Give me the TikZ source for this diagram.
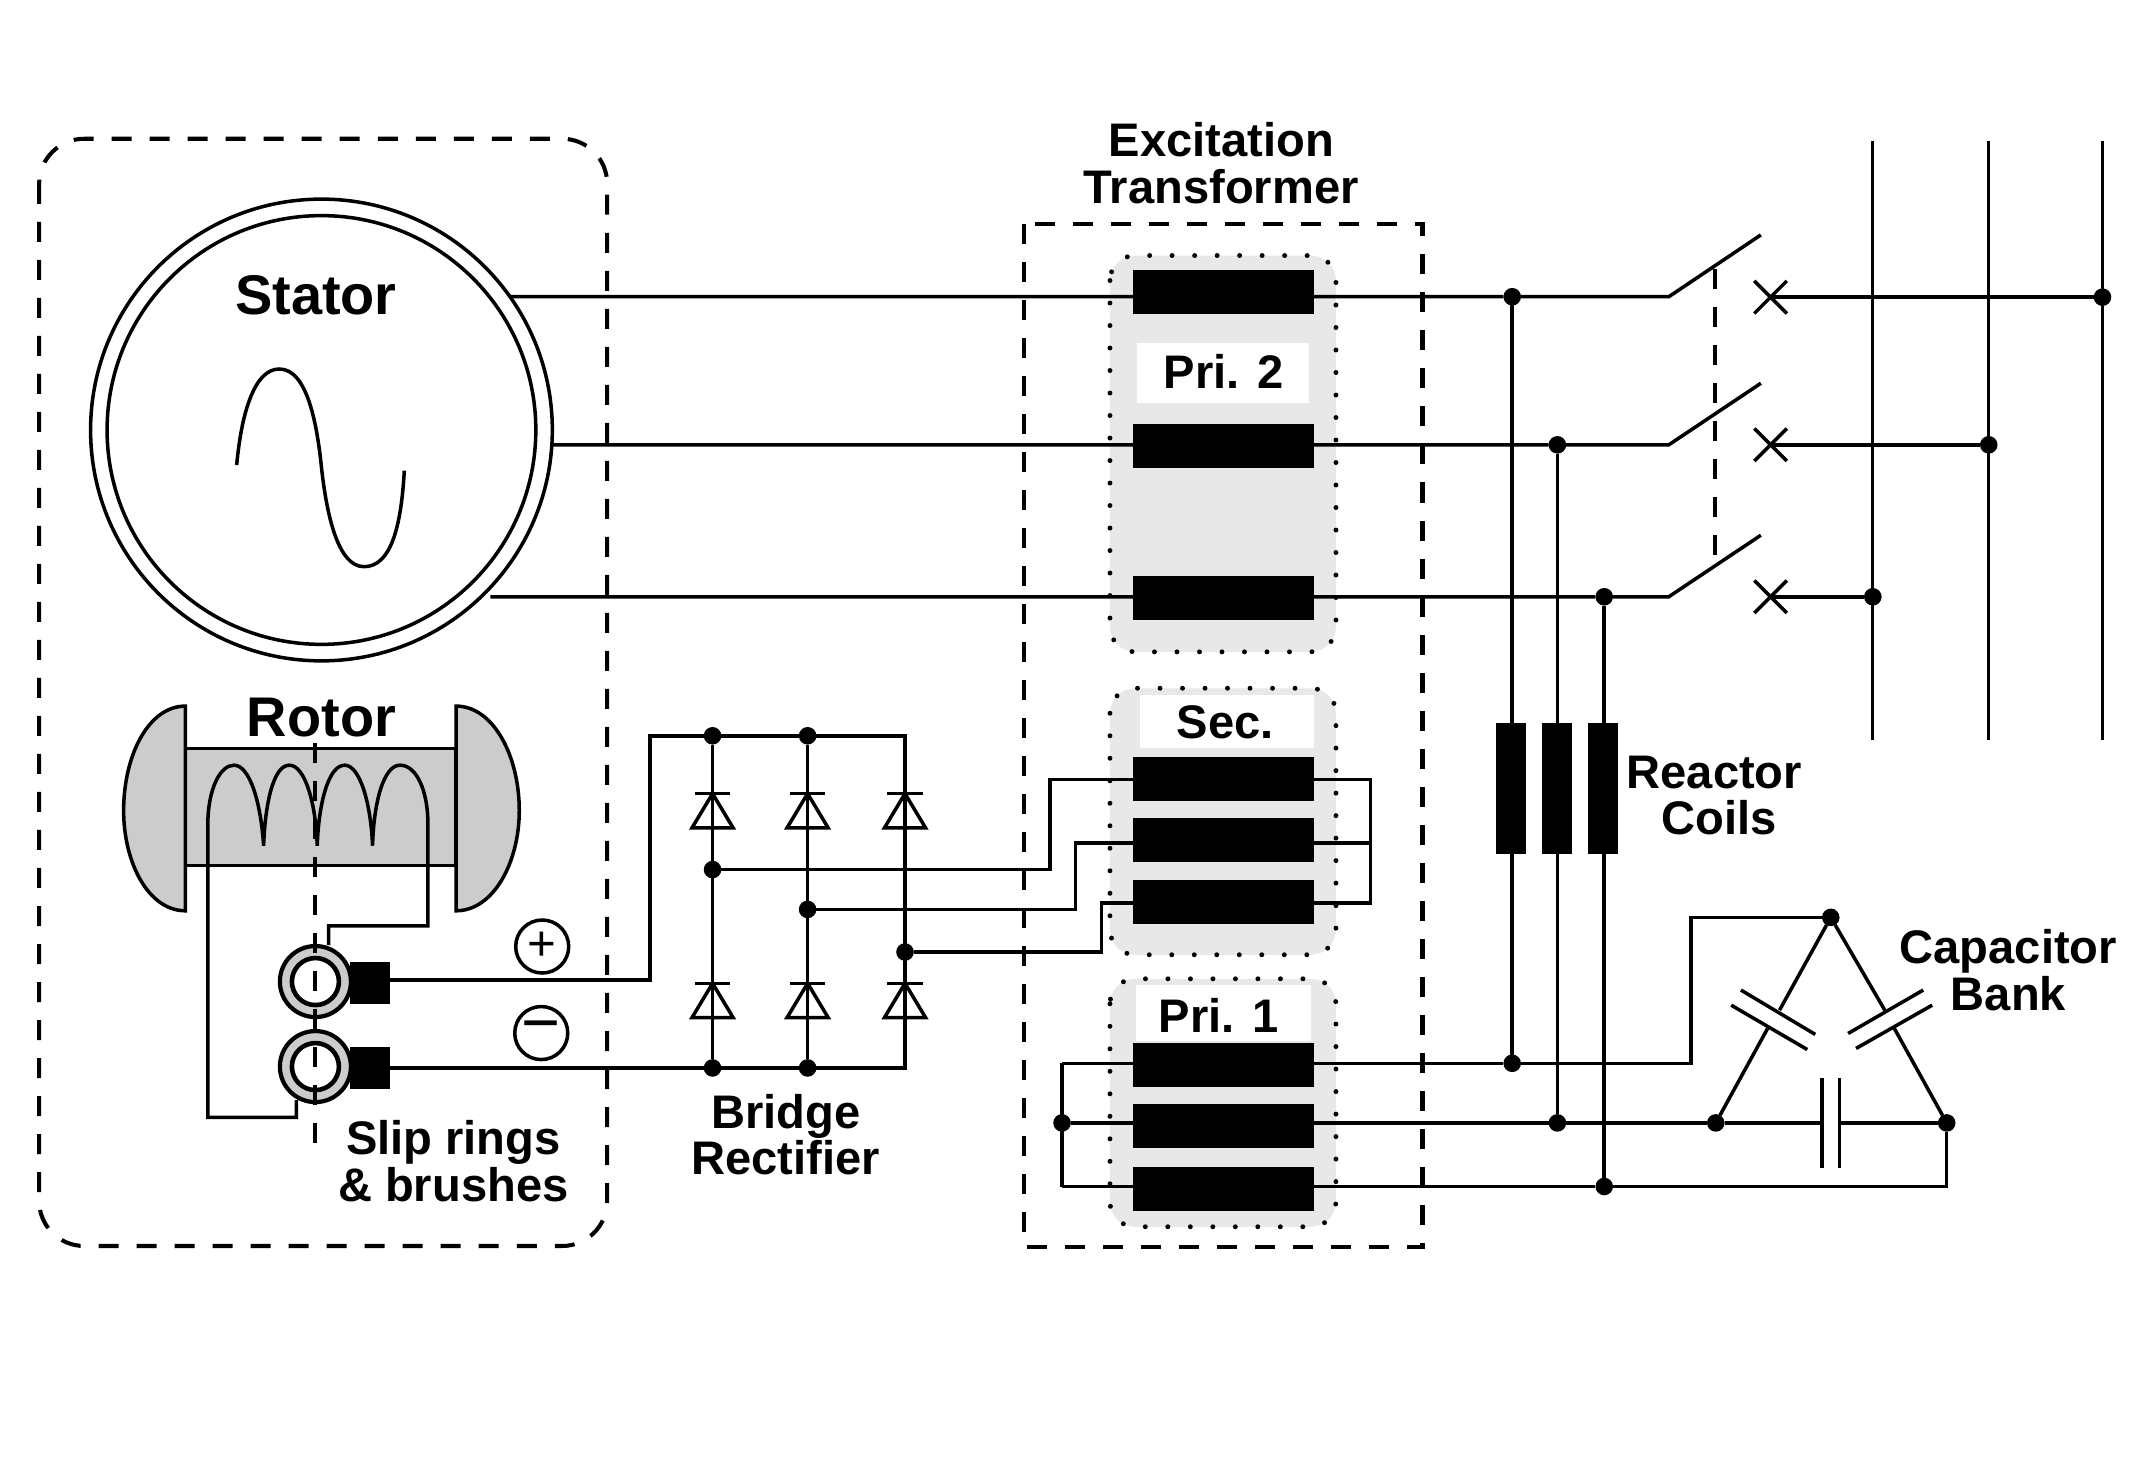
\documentclass[tikz,border=0pt]{standalone}
\usepackage{fontspec}
\setmainfont{Liberation Sans}
\usetikzlibrary{shapes.misc}

\tikzset{
    every picture/.style={line width=1pt},
    lbl/.style={font=\bfseries\fontsize{13.4}{13.3}\selectfont, align=center, inner sep=0pt},
    biglbl/.style={font=\bfseries\fontsize{15.9}{16}\selectfont, inner sep=0pt},
    dashbox/.style={line width=1.15pt, dash pattern=on 0.2cm off 0.18cm},
    dotbox/.style={fill=boxgray, line width=1.4pt, line cap=round, dash pattern=on 0pt off 6.4pt, rounded corners=0.25cm},
    jdot/.style={draw, fill=black, shape=circle, inner sep=0pt, minimum size=0.14cm},
    coil/.style={fill=black, inner sep=0pt, minimum width=1.81cm, minimum height=0.44cm},
    reactor/.style={fill=black, inner sep=0pt, minimum width=0.3cm, minimum height=1.31cm},
    brush/.style={fill=black, inner sep=0pt, minimum width=0.4cm, minimum height=0.42cm},
    xmark/.style={draw, shape=cross out, inner sep=0pt, minimum size=0.29cm},
    ring/.style={draw, shape=circle, fill=rotorgray, inner sep=0pt, minimum size=0.71cm, line width=1.2pt},
    ringin/.style={draw, shape=circle, fill=white, inner sep=0pt, minimum size=0.47cm, line width=1.3pt},
    sign/.style={draw, shape=circle, inner sep=0pt, minimum size=0.53cm},
    busline/.style={line width=0.85pt},
    diode/.pic={
        \draw (-13,0) -- (13,0);
        \draw (0,0) -- (15,25) -- (-15,25) -- cycle;
    }
}
\definecolor{boxgray}{gray}{0.91}
\definecolor{rotorgray}{gray}{0.80}

\begin{document}
\begin{tikzpicture}[x=0.013737cm, y=-0.013737cm]
    \useasboundingbox (0,0) rectangle (1568,1065.7);

    \draw[dotbox] (808,186) rectangle (972.5,474.5);
    \draw[dotbox] (808,501) rectangle (972.5,695);
    \draw[dotbox] (808,712.5) rectangle (972.5,893);
    \fill[white] (827.5,249.5) rectangle (953,293.7);
    \fill[white] (829.5,506) rectangle (956.5,544.7);
    \fill[white] (827,717) rectangle (954,758);

    \draw[dashbox, rounded corners=0.45cm] (28.5,101) rectangle (442,907);
    \draw[dashbox] (745.5,163) rectangle (1035.5,908);

    \node(stator)[draw, shape=circle, inner sep=0pt, minimum size=4.616cm] at (234,313) {};
    \node(statorin)[draw, shape=circle, inner sep=0pt, minimum size=4.286cm] at (234,313) {};
    \node(statorlbl)[biglbl] at (230,215) {Stator};
    \draw (172.3,338.5) .. controls (176,298) and (186,268.6) .. (203.3,268.6)
        .. controls (224,268.6) and (231,310) .. (234.2,342)
        .. controls (238,375) and (246,412.5) .. (265,412.5)
        .. controls (284,412.5) and (292,385) .. (294.3,342.6);

    \draw[fill=rotorgray] (135,545) rectangle (332,630);
    \draw[fill=rotorgray] (135,514) -- (135,663) .. controls (108,663) and (90,628) .. (90,590)
        .. controls (90,550) and (108,514) .. (135,514) -- cycle;
    \draw[fill=rotorgray] (332,514) -- (332,663) .. controls (359,663) and (378,628) .. (378,590)
        .. controls (378,550) and (359,514) .. (332,514) -- cycle;
    \node(rotorlbl)[biglbl] at (234,522) {Rotor};
    \draw (215.8,800.9) -- (215.8,813.4) -- (151.3,813.4) -- (151.3,600)
        .. controls (151.3,575) and (160,557) .. (170.3,557)
        .. controls (182,557) and (190,585) .. (191.9,615.6)
        .. controls (193,585) and (199,557) .. (210.6,557)
        .. controls (222,557) and (230,585) .. (230.9,615.6)
        .. controls (232,585) and (239,557) .. (250.9,557)
        .. controls (262,557) and (270,585) .. (271.2,615.6)
        .. controls (272,585) and (279,557) .. (291.2,557)
        .. controls (303,557) and (311.5,575) .. (311.5,600)
        -- (311.5,674) -- (239.2,674) -- (239.2,688);

    \node(ringp)[ring] at (229.6,714.5) {};
    \node(ringpin)[ringin] at (229.6,714.5) {};
    \node(ringn)[ring] at (229.6,776.4) {};
    \node(ringnin)[ringin] at (229.6,776.4) {};
    \draw[dashbox] (229.6,541) -- (229.6,836);
    \node(brushp)[brush] at (269.5,715.8) {};
    \node(brushn)[brush] at (269.5,777.2) {};
    \node(plus)[sign] at (394.7,689) {\fontsize{14}{14}\selectfont +};
    \node(minus)[sign] at (394,752) {\fontsize{19}{19}\selectfont −};
    \node(sliplbl)[lbl] at (330,845) {Slip rings\\\& brushes};

    \coordinate(ka) at (473,535.6);
    \coordinate(tc) at (658.8,535.6);
    \coordinate(bc) at (658.8,777.4);
    \node(ta)[jdot] at (518.7,535.6) {};
    \node(tb)[jdot] at (587.9,535.6) {};
    \node(ma)[jdot] at (518.7,633) {};
    \node(mb)[jdot] at (587.9,662) {};
    \node(mc)[jdot] at (658.8,693) {};
    \node(ba)[jdot] at (518.7,777.4) {};
    \node(bb)[jdot] at (587.9,777.4) {};
    \draw (284,713.5) -| (ka) -- (tc) -- (bc) -- (ba) -- (284,777.4);
    \draw (ta) -- (ba);
    \draw (tb) -- (bb);
    \pic at (518.7,577.7) {diode};
    \pic at (587.9,577.7) {diode};
    \pic at (658.8,577.7) {diode};
    \pic at (518.7,715.8) {diode};
    \pic at (587.9,715.8) {diode};
    \pic at (658.8,715.8) {diode};
    \node(bridgelbl)[lbl] at (572,826) {Bridge\\Rectifier};

    \coordinate(ca) at (764.3,567.3);
    \coordinate(cb) at (783,613.6);
    \coordinate(cc) at (801.7,657.5);
    \coordinate(sxa) at (997.6,567.3);
    \coordinate(sxb) at (997.6,613.6);
    \coordinate(sxc) at (997.6,657.5);
    \draw (ma) -| (ca) -- (sxa) -- (sxc) -- (cc) |- (mc);
    \draw (mb) -| (cb) -- (sxb);

    \node(ja)[jdot] at (1100.8,216) {};
    \node(jb)[jdot] at (1133.7,323.8) {};
    \node(jc)[jdot] at (1167.8,434.4) {};
    \node(jd)[jdot] at (1100.8,774) {};
    \node(je)[jdot] at (1133.7,817.4) {};
    \node(jf)[jdot] at (1167.8,863.7) {};
    \node(jp)[jdot] at (773.1,817.4) {};
    \coordinate(pa) at (773.1,774);
    \coordinate(pc) at (773.1,863.7);
    \coordinate(sa) at (371,216);
    \coordinate(sb) at (402,323.8);
    \coordinate(sc) at (357,434.4);

    \coordinate(swa) at (1214.8,216);
    \coordinate(swb) at (1214.8,323.8);
    \coordinate(swc) at (1214.8,434.4);
    \coordinate(tipa) at (1281.8,171);
    \coordinate(tipb) at (1281.8,279);
    \coordinate(tipc) at (1281.8,389.6);
    \draw (sa) -- (ja) -- (swa) -- (tipa);
    \draw (sb) -- (jb) -- (swb) -- (tipb);
    \draw (sc) -- (jc) -- (swc) -- (tipc);
    \draw[dashbox] (1248.3,196) -- (1248.3,405);

    \draw (ja) -- (jd);
    \draw (jb) -- (je);
    \draw (jc) -- (jf);
    \draw (pa) -- (pc);
    \draw (jp) -- (je);
    \draw (pa) -- (jd);
    \draw (pc) -- (jf);

    \node(pria)[coil] at (890.5,212.6) {};
    \node(prib)[coil] at (890.5,324.3) {};
    \node(pric)[coil] at (890.5,435) {};
    \node(seca)[coil] at (890.5,567.3) {};
    \node(secb)[coil] at (890.5,611.4) {};
    \node(secc)[coil] at (890.5,656.8) {};
    \node(prid)[coil] at (890.5,775) {};
    \node(prie)[coil] at (890.5,819.4) {};
    \node(prif)[coil] at (890.5,865.6) {};
    \node(extlbl)[lbl] at (889,119) {Excitation\\Transformer};
    \node(pribl)[lbl] at (890.6,270.6) {Pri. 2};
    \node(seclbl)[lbl] at (892,526) {Sec.};
    \node(prialbl)[lbl] at (887,739) {Pri. 1};

    \node(rea)[reactor] at (1100.2,574) {};
    \node(reb)[reactor] at (1133.4,574) {};
    \node(rec)[reactor] at (1166.7,574) {};
    \node(reactlbl)[lbl] at (1248,579) {Reactor\\\hspace*{0.1cm}Coils};

    \node(xa)[xmark] at (1288.9,216.3) {};
    \node(xb)[xmark] at (1288.9,323.8) {};
    \node(xc)[xmark] at (1288.9,434.4) {};
    \node(jg)[jdot] at (1530.5,216.3) {};
    \node(jh)[jdot] at (1447.7,323.8) {};
    \node(ji)[jdot] at (1363.3,434.4) {};
    \draw (xa.center) -- (jg);
    \draw (xb.center) -- (jh);
    \draw (xc.center) -- (ji);
    \coordinate(busat) at (1363.3,102.4);
    \coordinate(busab) at (1363.3,538.7);
    \coordinate(busbt) at (1447.7,102.4);
    \coordinate(busbb) at (1447.7,538.7);
    \coordinate(busct) at (1530.5,102.4);
    \coordinate(buscb) at (1530.5,538.7);
    \draw[busline] (busat) -- (busab);
    \draw[busline] (busbt) -- (busbb);
    \draw[busline] (busct) -- (buscb);

    \coordinate(kb) at (1231,667.8);
    \node(jt)[jdot] at (1332.7,667.8) {};
    \node(jl)[jdot] at (1249,817.4) {};
    \node(jr)[jdot] at (1417.1,817.4) {};
    \draw (jd) -| (kb) -- (jt);
    \draw (je) -- (jl);
    \draw (jf) -| (jr);

    \coordinate(cla) at (1295.4,735.3);
    \coordinate(clb) at (1286.7,748.7);
    \coordinate(cra) at (1372,735.3);
    \coordinate(crb) at (1379,748.7);
    \coordinate(cba) at (1326.3,817.4);
    \coordinate(cbb) at (1339.2,817.4);
    \draw (jt) -- (cla);
    \draw (clb) -- (jl);
    \draw (jt) -- (cra);
    \draw (crb) -- (jr);
    \draw (jl) -- (cba);
    \draw (cbb) -- (jr);
    \draw (1267.3,720.7) -- (1321.4,753);
    \draw (1260.2,731.7) -- (1315.6,764);
    \draw (1400,720.7) -- (1345.3,752.3);
    \draw (1406.5,731.7) -- (1351.1,763.2);
    \draw (1326.3,785) -- (1326.3,850);
    \draw (1339.2,785) -- (1339.2,850);
    \node(caplbl)[lbl] at (1462,706) {Capacitor\\Bank};
\end{tikzpicture}
\end{document}
